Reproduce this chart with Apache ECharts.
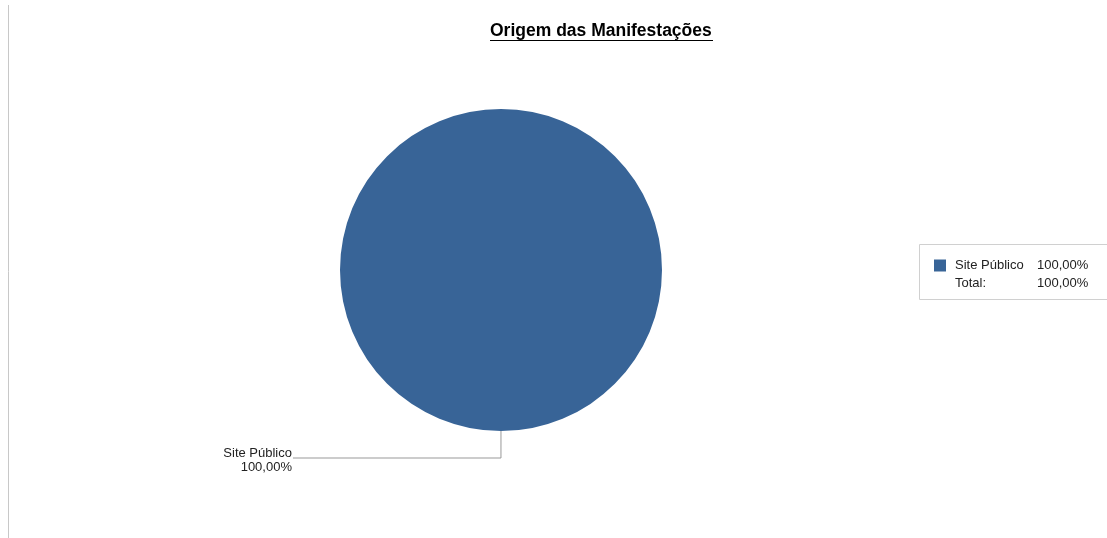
<!DOCTYPE html>
<html>
<head>
<meta charset="utf-8">
<script src="https://cdn.jsdelivr.net/npm/echarts@6/dist/echarts.min.js"></script>
<style>
html,body{margin:0;padding:0;background:#fff;}
#chart{width:1107px;height:538px;}
</style>
</head>
<body>
<div id="chart"></div>
<script>
const titleText = 'Origem das Manifestações';
const categories = ['Site Público'];
const values = [1];
const totalLabel = 'Total:';
const colors = ['#386497'];

const total = values.reduce((a, b) => a + b, 0);
const pct = v => (v / total * 100).toFixed(2).replace('.', ',') + '%';

const chart = echarts.init(document.getElementById('chart'));
const font = 'Liberation Sans, Arial, sans-serif';
chart.setOption({
  backgroundColor: '#ffffff',
  animation: false,
  color: colors,
  title: [
    {
      text: titleText,
      left: 490,
      top: 22,
      padding: 0,
      textStyle: { fontFamily: font, fontSize: 17.5, fontWeight: 'bold', color: '#000' }
    },
    {
      text: '{n|' + totalLabel + '}{v|' + pct(total) + '}',
      left: 955,
      top: 277,
      padding: 0,
      textStyle: {
        fontWeight: 'normal',
        rich: {
          n: { fontFamily: font, fontSize: 13, fontWeight: 'normal', color: '#222', width: 82 },
          v: { fontFamily: font, fontSize: 13, fontWeight: 'normal', color: '#222' }
        }
      }
    }
  ],
  graphic: [
    { type: 'line', shape: { x1: 490, y1: 40.5, x2: 713, y2: 40.5 }, style: { stroke: '#000', lineWidth: 1.2 } },
    { type: 'line', shape: { x1: 8.5, y1: 5, x2: 8.5, y2: 538 }, style: { stroke: '#c8c8c8', lineWidth: 1 } },
    { type: 'rect', shape: { x: 919.5, y: 244.5, width: 220, height: 55 }, style: { fill: 'none', stroke: '#d0d0d0', lineWidth: 1 }, z: -1 }
  ],
  legend: {
    left: 934,
    top: 259,
    padding: 0,
    icon: 'rect',
    itemWidth: 12,
    itemHeight: 12,
    itemGap: 8,
    orient: 'vertical',
    data: categories,
    formatter: name => {
      const i = categories.indexOf(name);
      return '{n|' + name + '}{v|' + pct(values[i]) + '}';
    },
    textStyle: {
      padding: [0, 0, 0, 4],
      rich: {
        n: { fontFamily: font, fontSize: 13, color: '#222', width: 82 },
        v: { fontFamily: font, fontSize: 13, color: '#222' }
      }
    }
  },
  series: [{
    type: 'pie',
    center: [501, 270],
    radius: [0, 161],
    startAngle: 89.99,
    clockwise: true,
    avoidLabelOverlap: false,
    data: categories.map((c, i) => ({ name: c, value: values[i] })),
    label: {
      show: true,
      position: 'outside',
      formatter: p => p.name + '\n' + pct(p.value),
      fontFamily: font,
      fontSize: 13,
      color: '#222',
      lineHeight: 14,
      align: 'right',
      distanceToLabelLine: 1
    },
    labelLayout: { dy: 2 },
    labelLine: {
      show: true,
      length: 27,
      length2: 208,
      lineStyle: { color: '#999', width: 1 }
    },
    emphasis: { disabled: true }
  }]
});
</script>
</body>
</html>
